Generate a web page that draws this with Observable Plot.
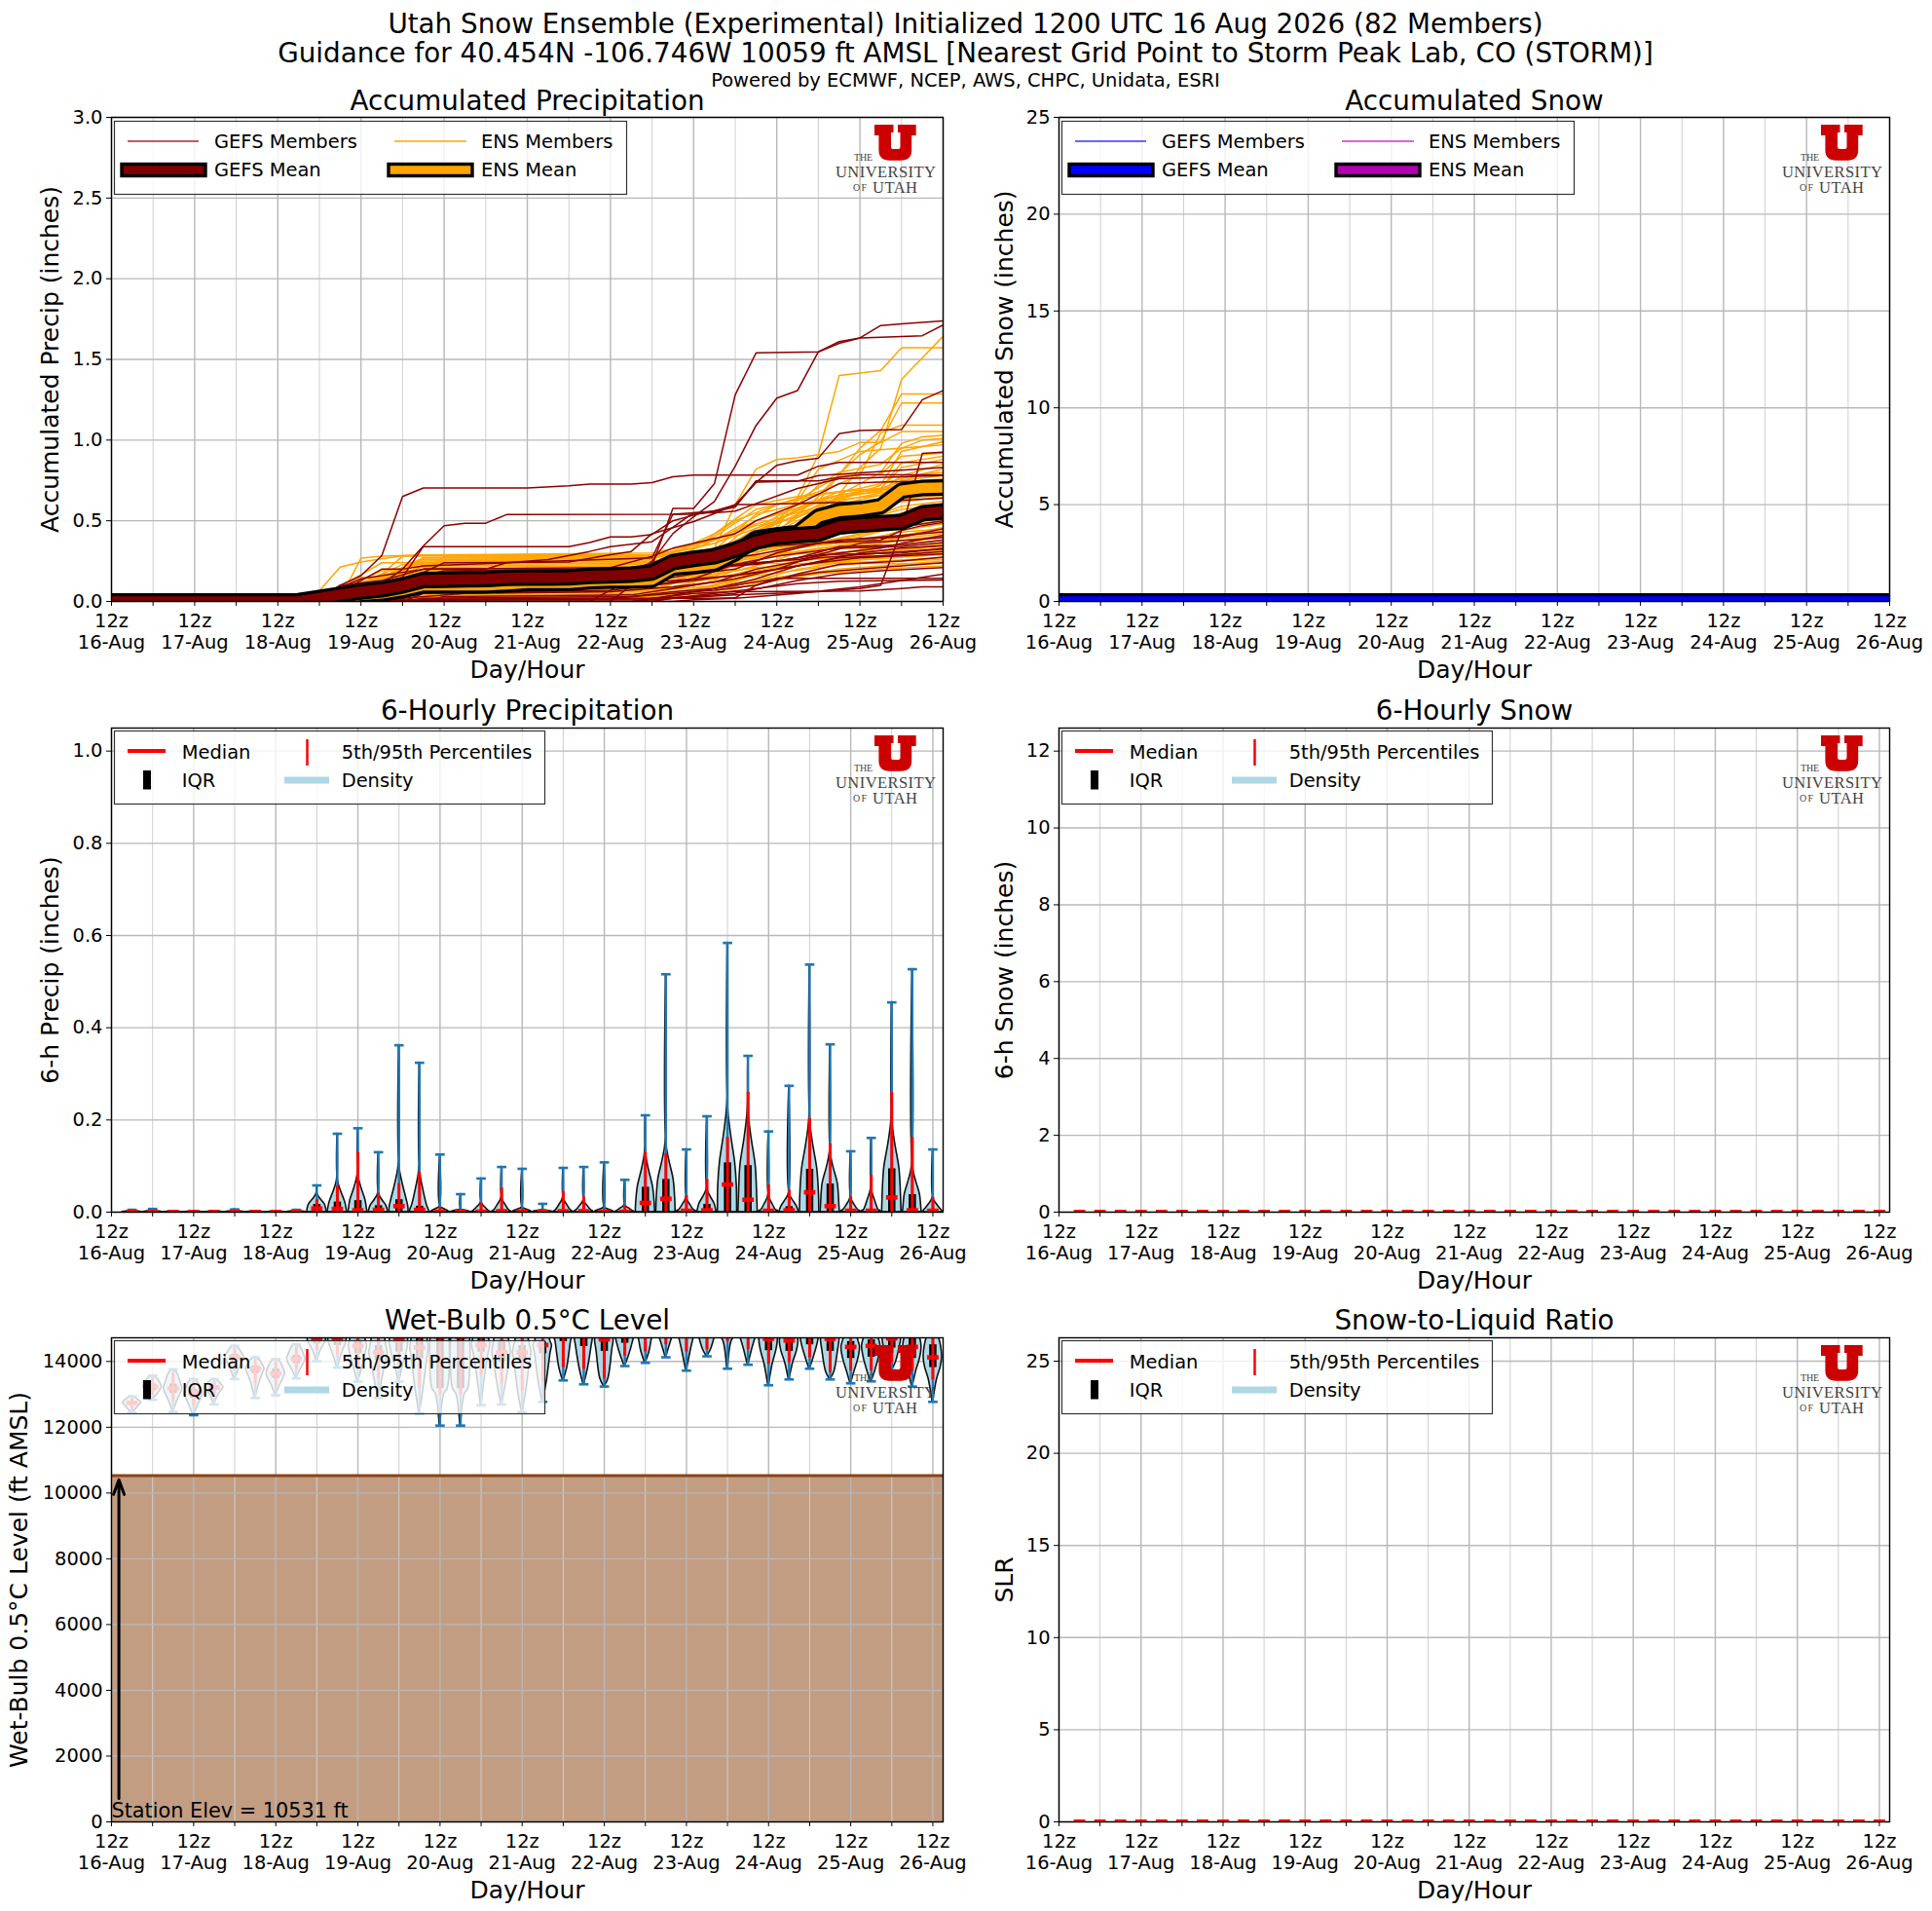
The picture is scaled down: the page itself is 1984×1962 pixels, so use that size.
<!DOCTYPE html>
<html><head><meta charset="utf-8">
<script src="https://cdn.jsdelivr.net/npm/d3@7"></script>
<script src="https://cdn.jsdelivr.net/npm/@observablehq/plot@0.6"></script>
<style>
html,body{margin:0;background:#fff;}
#page{position:relative;width:1984px;height:1962px;overflow:hidden;font-family:"DejaVu Sans",sans-serif;color:#000;}
.sup{position:absolute;left:0;width:1983px;text-align:center;white-space:nowrap;line-height:1;}
.panel{position:absolute;width:992px;}
</style></head><body><div id="page">
<div class="sup" style="top:11px;font-size:27.78px">Utah Snow Ensemble (Experimental) Initialized 1200 UTC 16 Aug 2026 (82 Members)</div>
<div class="sup" style="top:41px;font-size:27.78px">Guidance for 40.454N -106.746W 10059 ft AMSL [Nearest Grid Point to Storm Peak Lab, CO (STORM)]</div>
<div class="sup" style="top:73px;font-size:19.44px">Powered by ECMWF, NCEP, AWS, CHPC, Unidata, ESRI</div>
</div>
<script>
// ---------- tick labels ----------
const dayLabels = ["16-Aug","17-Aug","18-Aug","19-Aug","20-Aug","21-Aug","22-Aug","23-Aug","24-Aug","25-Aug","26-Aug"];
const dayTicks = [0,4,8,12,16,20,24,28,32,36,40];
const halfDayTicks = [2,6,10,14,18,22,26,30,34,38];
const meanSteps = [0,1,2,3,4,5,6,7,8,9,10,11,12,13,14,15,16,17,18,19,20,21,22,23,24,25,26,27,28,29,30,31,32,33,34,35,36,37,38,39,40];
const violinSteps = [1,2,3,4,5,6,7,8,9,10,11,12,13,14,15,16,17,18,19,20,21,22,23,24,25,26,27,28,29,30,31,32,33,34,35,36,37,38,39,40];

// ---------- accumulated precipitation: means at every 6-h step ----------
const gefsMean = [0,0,0,0,0,0,0,0,0,.002,.022,.042,.062,.075,.099,.133,.135,.137,.139,.146,.148,.148,.15,.158,.162,.166,.18,.244,.264,.28,.32,.37,.4,.41,.42,.465,.477,.485,.493,.546,.558];
const ensMean = [0,0,0,0,0,0,0,0,0,0,.005,.02,.04,.05,.07,.1,.1,.1,.1,.105,.115,.115,.115,.125,.13,.13,.135,.21,.22,.235,.3,.39,.41,.425,.525,.56,.57,.59,.687,.703,.707];

// ---------- accumulated precipitation: members as [step,value,...] read at each bend ----------
const gefsMembers = [
[25,.1,26,.22,27,.576,28,.576,29,.73,30,1.28,31,1.54,34,1.547,35,1.61,36,1.633,39,1.647,40,1.714],
[24,.07,25,.15,26,.25,27,.42,28,.525,29,.62,30,.838,31,1.09,32,1.26,33,1.307,34,1.547,35,1.6,36,1.633,37,1.71,38,1.72,40,1.738],
[10,.02,11,.1,12,.16,13,.284,14,.65,15,.703,20,.703,22,.717,23,.727,25,.728,26,.737,27,.773,28,.783,33,.783,34,.838,35,.862,40,.862],
[11,.05,12,.09,13,.11,14,.2,15,.344,16,.469,17,.485,18,.485,19,.538,28,.54,29,.556,30,.586,31,.747,34,.747,35,.77,36,.785,40,.785],
[10,.01,12,.08,14,.15,15,.34,22,.34,23,.365,24,.4,25,.4,26,.415,27,.5,28,.535,30,.59,31,.74,33,.745,34,.78,40,.83],
[12,.05,14,.12,16,.24,22,.245,24,.29,25,.31,26,.42,28,.495,29,.545,30,.6,31,.737,32,.844,33,.872,34,.888,35,1.04,36,1.06,38,1.065,39,1.25,40,1.307],
[11,.06,13,.2,14,.2,15,.22,19,.24,21,.26,23,.31,24,.34,26,.37,27,.46,28,.55,29,.56,30,.6,31,.6,37,.62,40,.64],
[12,.06,14,.13,16,.19,25,.2,27,.28,30,.33,34,.36,37,.38,38,.44,39,.918,40,.925],
[11,.1,13,.13,15,.2,18,.2,19,.24,26,.27,27,.54,28,.55,29,.55,30,.56,33,.7,35,.76,40,.78],
[10,.03,12,.14,15,.2,24,.21,26,.28,27,.33,30,.42,31,.5,33,.6,35,.73,37,.74,40,.75],
[11,.01,13,.06,15,.15,24,.16,26,.19,27,.27,28,.3,30,.36,32,.4,35,.45,38,.5,39,.57,40,.58],
[12,.01,14,.05,16,.13,20,.14,26,.14,27,.2,29,.27,31,.36,33,.37,35,.42,37,.44,40,.5],
[12,.03,15,.13,20,.19,25,.2,27,.22,29,.26,31,.29,33,.34,35,.38,38,.4,40,.45],
[13,.01,15,.09,19,.1,24,.11,26,.13,28,.17,30,.2,32,.3,34,.36,36,.39,40,.43],
[12,.02,15,.08,22,.09,26,.1,28,.14,30,.23,33,.26,35,.3,37,.33,38,.36,40,.41],
[14,.06,16,.14,24,.14,26,.15,27,.2,30,.22,32,.25,34,.29,36,.36,40,.395],
[13,.02,15,.11,26,.12,28,.21,31,.23,33,.27,35,.34,38,.35,40,.38],
[14,.03,16,.11,22,.12,25,.17,27,.2,30,.23,32,.28,35,.33,38,.34,40,.365],
[15,.05,20,.06,24,.07,26,.1,28,.13,31,.18,33,.22,36,.3,38,.33,40,.345],
[12,.03,14,.07,16,.09,24,.1,27,.13,30,.16,32,.2,34,.29,38,.3,40,.33],
[14,.02,17,.05,24,.06,27,.09,29,.12,31,.2,34,.27,37,.3,40,.325],
[15,.02,25,.03,27,.06,29,.08,31,.14,33,.22,35,.27,38,.29,40,.31],
[16,.03,25,.04,27,.08,30,.14,32,.2,34,.24,36,.27,40,.295],
[14,.01,24,.02,27,.05,29,.07,31,.1,33,.17,35,.23,38,.25,40,.275],
[15,.01,26,.015,28,.06,30,.1,32,.14,34,.18,36,.2,38,.22,40,.24],
[13,.01,26,.02,28,.03,30,.05,33,.13,35,.17,37,.19,40,.21],
[15,.01,26,.02,29,.02,30,.022,31,.1,32,.143,40,.143],
[27,.02,29,.05,31,.08,33,.11,35,.125,38,.13,40,.133],
[26,.02,28,.05,30,.06,36,.065,38,.08,39,.09,40,.09],
[26,.01,30,.04,34,.06,36,.08,37,.1,38,.44,39,.47,40,.49],
[28,.01,30,.02,33,.05,36,.09,38,.13,40,.17]
];
const ensMembers = [
[11,.06,12,.12,15,.2,26,.21,29,.25,32,.4,34,.5,36,.83,37,.95,38,1.376,40,1.643],
[10,.02,12,.1,15,.24,26,.25,29,.3,32,.45,33,.645,34,.91,35,1.4,37,1.43,38,1.573,40,1.573],
[11,.03,13,.1,15,.27,26,.28,29,.36,32,.5,34,.62,36,.95,37,1.06,38,1.285,40,1.285],
[12,.05,14,.11,16,.15,26,.16,29,.27,32,.43,34,.65,35,.79,36,.91,37,.99,38,1.23,40,1.23],
[10,.066,11,.213,12,.244,14,.284,26,.29,28,.33,30,.5,32,.6,34,.68,36,.78,37,1.045,38,1.093,40,1.093],
[12,.04,15,.22,26,.23,29,.33,30,.6,31,.82,32,.88,33,.89,35,.93,36,.985,37,.985,38,1.053,40,1.053],
[11,.02,12,.268,13,.28,15,.288,26,.3,29,.38,31,.5,33,.58,35,.66,37,.8,38,.98,39,1.02,40,1.03],
[12,.03,15,.18,26,.19,29,.3,31,.45,33,.6,34,.72,35,.8,37,.85,38,.95,39,1,40,1.01],
[13,.06,16,.26,26,.27,29,.36,31,.48,33,.55,35,.63,37,.72,38,.93,40,.99],
[11,.05,14,.16,26,.17,29,.3,32,.5,33,.62,34,.82,36,.93,38,.95,40,.97],
[12,.07,15,.25,26,.26,29,.4,31,.57,33,.63,35,.78,37,.79,38,.9,40,.92],
[12,.02,15,.14,26,.15,29,.25,31,.4,33,.58,35,.68,37,.7,38,.86,40,.9],
[13,.04,15,.1,26,.11,29,.32,31,.54,33,.6,35,.66,37,.7,38,.83,40,.88],
[10,.03,12,.15,26,.16,29,.27,31,.42,33,.54,35,.65,37,.68,38,.78,40,.85],
[13,.05,16,.2,26,.21,29,.38,32,.6,34,.66,36,.7,38,.76,40,.82],
[11,.04,14,.23,26,.24,29,.42,31,.6,33,.65,35,.68,37,.7,39,.79,40,.8],
[14,.07,16,.13,26,.14,29,.29,31,.5,33,.6,35,.63,37,.66,38,.75,40,.78],
[12,.09,15,.27,26,.28,29,.38,31,.47,33,.52,35,.64,37,.69,39,.75,40,.76],
[13,.03,15,.08,26,.09,29,.2,31,.36,33,.5,35,.62,38,.7,40,.75],
[11,.07,13,.19,26,.2,29,.31,31,.42,33,.57,35,.66,38,.72,40,.73],
[12,.06,15,.12,26,.13,29,.24,32,.44,34,.6,36,.68,38,.7,40,.71],
[10,.01,13,.17,26,.18,29,.28,31,.44,33,.53,35,.6,37,.66,40,.7],
[14,.05,16,.06,26,.07,29,.19,31,.3,33,.42,35,.56,38,.66,40,.68],
[12,.08,15,.26,26,.27,29,.33,31,.41,33,.46,35,.52,37,.62,40,.66],
[13,.02,16,.05,26,.06,29,.15,31,.33,33,.45,35,.5,37,.6,40,.65],
[11,.03,14,.21,26,.22,29,.32,31,.38,33,.43,36,.5,38,.59,40,.62],
[13,.07,15,.15,26,.16,29,.22,31,.35,33,.4,35,.47,38,.57,40,.6],
[12,.01,15,.07,26,.08,29,.17,31,.3,33,.38,36,.45,38,.55,40,.58],
[14,.1,16,.28,26,.285,28,.3,30,.36,33,.4,36,.46,38,.52,40,.56],
[12,.05,14,.17,26,.18,29,.24,31,.31,34,.36,37,.44,39,.53,40,.54],
[13,.01,16,.04,26,.05,29,.13,31,.27,33,.34,36,.42,39,.5,40,.52],
[11,.09,13,.24,26,.25,28,.28,30,.33,33,.36,36,.4,38,.47,40,.5],
[14,.03,16,.09,26,.1,29,.16,31,.22,33,.3,36,.36,38,.44,40,.48],
[12,.04,15,.19,26,.2,29,.23,31,.27,34,.33,37,.38,40,.46],
[13,.06,15,.11,26,.12,29,.19,31,.25,33,.33,36,.38,38,.43,40,.45],
[15,.02,26,.03,29,.1,31,.18,33,.25,36,.32,38,.4,40,.44],
[12,.06,14,.28,26,.29,28,.3,31,.33,34,.35,37,.38,40,.42],
[14,.04,16,.16,26,.17,29,.21,31,.26,34,.32,37,.36,40,.41],
[15,.01,26,.02,28,.07,30,.14,32,.22,34,.28,37,.34,40,.4],
[13,.08,15,.2,26,.21,29,.25,31,.28,34,.32,38,.35,40,.38],
[14,.02,26,.03,29,.08,31,.17,33,.22,36,.28,38,.32,40,.36],
[12,.03,15,.09,26,.1,29,.14,31,.2,33,.25,36,.29,40,.35],
[13,.09,15,.23,26,.24,29,.26,32,.29,36,.31,40,.33],
[14,.01,26,.02,29,.06,31,.13,33,.2,36,.26,40,.32],
[11,.05,14,.15,26,.16,29,.2,31,.24,35,.27,40,.3],
[13,.04,16,.06,26,.07,29,.12,31,.19,34,.24,40,.29],
[12,.02,15,.05,26,.06,29,.1,31,.16,34,.21,37,.25,40,.27],
[14,.06,16,.12,26,.13,29,.17,31,.21,35,.24,40,.26],
[15,.03,26,.04,29,.09,32,.15,35,.2,38,.23,40,.25],
[13,.03,15,.17,26,.18,29,.21,31,.235,40,.235],
[14,.01,26,.01,29,.05,31,.11,34,.17,37,.2,40,.22]
];
const snowMean = [0,0,0,0,0,0,0,0,0,0,0,0,0,0,0,0,0,0,0,0,0,0,0,0,0,0,0,0,0,0,0,0,0,0,0,0,0,0,0,0,0];

// ---------- 6-hourly precipitation statistics ----------
const precipMax = [.005,.007,.002,.002,.002,.006,.002,.002,.005,.058,.17,.182,.13,.362,.324,.125,.039,.073,.098,.094,.018,.096,.098,.108,.07,.21,.516,.136,.208,.584,.339,.175,.274,.537,.364,.132,.161,.455,.527,.136];
const precipP95 = [.002,.003,.001,.001,.001,.002,.001,.001,.002,.028,.058,.13,.042,.063,.087,.011,.004,.021,.053,.008,.004,.046,.034,.007,.015,.13,.128,.037,.072,.163,.261,.06,.049,.204,.149,.035,.081,.261,.163,.033];
const precipQ3 = [.001,.001,.0005,.0005,.0005,.001,.0005,.0005,.001,.018,.023,.026,.015,.028,.014,.003,.002,.003,.004,.003,.002,.004,.004,.003,.003,.055,.072,.004,.018,.108,.102,.004,.013,.094,.062,.004,.004,.095,.039,.007];
const precipMed = [.0005,.0005,.0002,.0002,.0002,.0005,.0002,.0002,.0005,.008,.007,.004,.005,.013,.005,.001,.001,.001,.002,.001,.001,.002,.002,.001,.001,.02,.029,.003,.004,.06,.027,.003,.004,.043,.013,.003,.003,.032,.004,.003];
const precipNeck = [.003,.004,.0015,.0015,.0015,.003,.0015,.0015,.003,.04,.07,.08,.04,.1,.09,.012,.006,.02,.03,.01,.005,.03,.025,.01,.015,.13,.15,.03,.05,.23,.22,.035,.04,.2,.13,.03,.05,.2,.1,.03];
const precipBodyWidth = [.47,.45,.37,.17,.02,.004];

// ---------- 6-hourly snow and snow-to-liquid ratio medians ----------
const snowMedian = [0,0,0,0,0,0,0,0,0,0,0,0,0,0,0,0,0,0,0,0,0,0,0,0,0,0,0,0,0,0,0,0,0,0,0,0,0,0,0,0];
const slrMedian = [0,0,0,0,0,0,0,0,0,0,0,0,0,0,0,0,0,0,0,0,0,0,0,0,0,0,0,0,0,0,0,0,0,0,0,0,0,0,0,0];

// ---------- wet-bulb 0.5 C level statistics (ft AMSL) ----------
const wbMin = [12445,12831,12465,12366,12693,13464,12890,12970,13484,14008,13810,13385,12890,13385,12425,12050,12050,12673,12693,12465,12772,13424,13306,13237,13860,13958,14127,13721,14156,13780,13900,13276,13454,13780,13454,13335,13395,13731,13237,12772];
const wbP5 = [12560,12980,12800,12650,12980,13760,13350,13270,13750,14350,14200,13800,13500,13900,13200,13000,13000,13600,13300,13100,13400,13830,13780,13484,14176,14305,14522,14305,14374,14620,14374,13929,13978,14127,13682,13731,13731,13978,13731,13454];
const wbQ1 = [12690,13130,13040,12900,13130,14000,13650,13500,13950,14550,14500,14250,14050,14300,14100,13190,13190,14300,14000,14000,14250,14620,14470,14324,14570,14850,14850,14800,14750,14800,14750,14344,14324,14522,14324,14107,14146,14423,14107,13830];
const wbMed = [12742,13227,13187,13040,13207,14127,13780,13632,14077,14670,14670,14473,14275,14640,14423,14760,14760,14500,14275,14275,14500,14800,14800,14670,14800,14900,14950,15000,14950,15000,14900,14690,14640,14800,14690,14443,14473,14700,14443,14127];
const wbQ3 = [12800,13330,13330,13160,13280,14230,13880,13780,14200,14750,14790,14650,14500,14800,14700,14900,14900,14700,14600,14500,14600,14950,14950,14800,14950,15050,15100,15200,15100,15200,15100,14850,14800,15000,14850,14620,14670,14850,14720,14522];
const wbP95 = [12880,13500,13650,13380,13400,14400,14050,14000,14450,14850,14950,15200,15000,15100,15100,15300,15300,15000,15000,14900,15000,15200,15200,15100,15200,15300,15300,15400,15300,15400,15300,15100,15100,15200,15100,14950,15000,15100,15000,14900];
const wbMax = [12940,13573,13760,13464,13464,14473,14127,14077,14522,14900,15000,15300,15100,15200,15200,15500,15500,15100,15100,15000,15100,15400,15400,15300,15400,15500,15500,15600,15500,15600,15500,15300,15300,15400,15300,15200,15200,15300,15200,15100];
const wbBodyWidth = [.015,.2,.38,.45,.38,.2,.015];
const stationElev = [10531];
const arrowBase = [713];
const stationLabelY = [340];

// ---------- helpers ----------
const FS = 19.44, GRID = "#b8b8b8", FONT = "DejaVu Sans";
const toRows = (pairs, id) => {
  const rows = [{id, step: 0, value: 0}, {id, step: pairs[0] - 1, value: 0}];
  for (let i = 0; i < pairs.length; i += 2) rows.push({id, step: pairs[i], value: pairs[i+1]});
  return rows;
};
const membersRows = (list, tag) => list.flatMap((m, i) => toRows(m, tag + i));
const meanRows = (values) => values.map((value, i) => ({step: meanSteps[i], value}));

function svgEl(parent, name, attrs) {
  const e = document.createElementNS("http://www.w3.org/2000/svg", name);
  for (const k in attrs) e.setAttribute(k, attrs[k]);
  parent.appendChild(e);
  return e;
}
function svgText(parent, str, x, y, attrs) {
  const t = svgEl(parent, "text", Object.assign({x, y, "font-family": FONT, "font-size": FS, dy: "0.35em", fill: "#000", "text-anchor": "start"}, attrs || {}));
  t.textContent = str;
  return t;
}
// University mark, anchored to the right edge of the frame
function logoMark() {
  return (index, scales, values, dims) => {
    const g = document.createElementNS("http://www.w3.org/2000/svg", "g");
    const R = dims.width - dims.marginRight, T = dims.marginTop;
    const u = svgEl(g, "g", {transform: `translate(${R-70},${T+8})`});
    svgEl(u, "path", {d: "M0 0H19.5V8H17V23Q17 25 19 25H24.5Q26.5 25 26.5 23V8H24V0H42.7V11H38.2V26Q38.2 36.7 27 36.7H15.7Q4.4 36.7 4.4 26V11H0Z", fill: "#cc0000"});
    const serif = {"font-family": "Liberation Serif", fill: "#444", dy: 0};
    svgText(g, "THE", R-91, T+45, Object.assign({"font-size": 10, textLength: 19}, serif));
    svgText(g, "UNIVERSITY", R-110, T+62, Object.assign({"font-size": 16.5, textLength: 103, lengthAdjust: "spacing"}, serif));
    svgText(g, "OF", R-92, T+76, Object.assign({"font-size": 10, textLength: 14}, serif));
    svgText(g, "UTAH", R-72, T+77.5, Object.assign({"font-size": 16.5, textLength: 46}, serif));
    return g;
  };
}
function memberLegend(memberColorA, meanColorA, memberColorB, meanColorB) {
  return (index, scales, values, dims) => {
    const g = document.createElementNS("http://www.w3.org/2000/svg", "g");
    g.setAttribute("transform", `translate(${dims.marginLeft},${dims.marginTop})`);
    svgEl(g, "rect", {x: 3.5, y: 4.5, width: 526, height: 75, fill: "#fff", "fill-opacity": .8, stroke: "#333", "stroke-width": 1.2});
    const col = [[17, 90, 11, 97, 106, "GEFS"], [291, 365, 285, 371, 380, "ENS"]];
    col.forEach(([a, b, c, d, tx, name], i) => {
      svgEl(g, "line", {x1: a, x2: b, y1: 25, y2: 25, stroke: i ? memberColorB : memberColorA, "stroke-width": 1.6});
      svgText(g, name + " Members", tx, 25);
      svgEl(g, "rect", {x: c, y: 48.5, width: d-c, height: 12, fill: i ? meanColorB : meanColorA, stroke: "#000", "stroke-width": 3.4});
      svgText(g, name + " Mean", tx, 54);
    });
    return g;
  };
}
function violinLegend() {
  return (index, scales, values, dims) => {
    const g = document.createElementNS("http://www.w3.org/2000/svg", "g");
    g.setAttribute("transform", `translate(${dims.marginLeft},${dims.marginTop})`);
    svgEl(g, "rect", {x: 3.5, y: 3.5, width: 442, height: 75, fill: "#fff", "fill-opacity": .8, stroke: "#333", "stroke-width": 1.2});
    svgEl(g, "line", {x1: 17, x2: 56, y1: 24, y2: 24, stroke: "#f00", "stroke-width": 4});
    svgText(g, "Median", 72.7, 25);
    svgEl(g, "rect", {x: 33, y: 44, width: 8, height: 19.5, fill: "#000"});
    svgText(g, "IQR", 72.7, 54);
    svgEl(g, "line", {x1: 201.5, x2: 201.5, y1: 12, y2: 39, stroke: "#f00", "stroke-width": 2.5});
    svgText(g, "5th/95th Percentiles", 236.7, 25);
    svgEl(g, "line", {x1: 178, x2: 224, y1: 54, y2: 54, stroke: "#add8e6", "stroke-width": 7});
    svgText(g, "Density", 236.7, 54);
    return g;
  };
}
// violin body, whiskers, quartile bar, percentile bar, median dash
function violinMarks(rows, bodyRows) {
  return [
    Plot.areaX(bodyRows, {x1: "x1", x2: "x2", y: "y", z: "k", curve: "catmull-rom", fill: "#add8e6", stroke: "#111", strokeWidth: 1.6, clip: true}),
    Plot.link(rows, {x1: "k", x2: "k", y1: "min", y2: "max", stroke: "#1f77b4", strokeWidth: 2.4, clip: true}),
    Plot.link(rows, {x1: d => d.k - .23, x2: d => d.k + .23, y1: "max", y2: "max", stroke: "#1f77b4", strokeWidth: 2.6, clip: true}),
    Plot.link(rows, {x1: d => d.k - .23, x2: d => d.k + .23, y1: "min", y2: "min", stroke: "#1f77b4", strokeWidth: 2.6, clip: true}),
    Plot.link(rows, {x1: "k", x2: "k", y1: "q1", y2: "q3", stroke: "#000", strokeWidth: 7.5, clip: true}),
    Plot.link(rows, {x1: "k", x2: "k", y1: "p5", y2: "p95", stroke: "#f00", strokeWidth: 3, clip: true}),
    Plot.link(rows, {x1: d => d.k - .28, x2: d => d.k + .28, y1: "med", y2: "med", stroke: "#f00", strokeWidth: 4.6, clip: true})
  ];
}
function medianDashes(values) {
  const rows = violinSteps.map((k, i) => ({k, med: values[i]}));
  return [Plot.link(rows, {x1: d => d.k - .28, x2: d => d.k + .28, y1: "med", y2: "med", stroke: "#f00", strokeWidth: 5, clip: true})];
}
function meanBand(rows, color) {
  return [
    Plot.line(rows, {x: "step", y: "value", stroke: "#000", strokeWidth: 17, strokeLinejoin: "miter", clip: true}),
    Plot.line(rows, {x: "step", y: "value", stroke: color, strokeWidth: 10.5, strokeLinejoin: "miter", clip: true})
  ];
}

function panel(o) {
  const host = document.createElement("div");
  host.className = "panel";
  host.style.left = o.left + "px";
  host.style.top = o.top + "px";
  const fig = Plot.plot({
    width: 992, height: 638,
    marginLeft: o.marginLeft, marginRight: o.marginRight, marginTop: 45, marginBottom: 96,
    style: {background: "transparent", overflow: "visible", fontFamily: FONT},
    x: {domain: o.xDomain},
    y: {domain: o.yDomain},
    marks: [
      ...(o.under || []),
      Plot.ruleX(halfDayTicks, {stroke: "#cfcfcf", strokeWidth: 1}),
      Plot.ruleX(dayTicks, {stroke: GRID, strokeWidth: 1.4}),
      Plot.ruleY(o.yTicks, {stroke: GRID, strokeWidth: 1.4}),
      ...o.body,
      o.legend,
      logoMark(),
      Plot.axisX({ticks: dayTicks, tickFormat: d => "12z\n" + dayLabels[dayTicks.indexOf(d)], tickSize: 5, tickPadding: 5, fontSize: FS, lineHeight: 1.17, label: null, anchor: "bottom"}),
      Plot.axisX({ticks: halfDayTicks, tickFormat: () => "", tickSize: 5, label: null, anchor: "bottom"}),
      Plot.axisY({ticks: o.yTicks, tickFormat: o.yFormat, tickSize: 5, tickPadding: 4, fontSize: FS, label: null}),
      Plot.frame({stroke: "#000", strokeWidth: 1.4}),
      Plot.text([o.title], {frameAnchor: "top", lineAnchor: "bottom", dy: o.titleDy, fontSize: 27.78, fill: "#000"}),
      Plot.text(["Day/Hour"], {frameAnchor: "bottom", lineAnchor: "middle", dy: 70, fontSize: 25, fill: "#000"}),
      Plot.text([o.yLabel], {frameAnchor: "left", lineAnchor: "middle", textAnchor: "middle", rotate: -90, dx: o.yLabelDx, fontSize: 25, fill: "#000"})
    ]
  });
  host.appendChild(fig);
  document.getElementById("page").appendChild(host);
}

const f1 = d3.format(".1f"), f0 = d3.format("d");

// --- precip violins ---
const precipRows = violinSteps.map((k, i) => ({k, min: 0, p5: 0, q1: 0, med: precipMed[i], q3: precipQ3[i], p95: precipP95[i], neck: precipNeck[i], max: precipMax[i]}));
const precipBody = precipRows.flatMap(d => [0, d.med, d.q3, (d.q3 + d.neck) / 2, d.neck, d.max].map((y, j) => ({k: d.k, y, x1: d.k - precipBodyWidth[j], x2: d.k + precipBodyWidth[j]})));
// --- wet-bulb violins ---
const wbRows = violinSteps.map((k, i) => ({k, min: wbMin[i], p5: wbP5[i], q1: wbQ1[i], med: wbMed[i], q3: wbQ3[i], p95: wbP95[i], max: wbMax[i]}));
const wbBody = wbRows.flatMap(d => [d.min, d.p5, d.q1, d.med, d.q3, d.p95, d.max].map((y, j) => ({k: d.k, y, x1: d.k - wbBodyWidth[j], x2: d.k + wbBodyWidth[j]})));

const L = {left: 0, marginLeft: 114, marginRight: 24};
const R = {left: 992, marginLeft: 95, marginRight: 44};

panel({...L, top: 75, titleDy: -8, xDomain: [0, 40], yDomain: [0, 3], yTicks: [0, .5, 1, 1.5, 2, 2.5, 3], yFormat: f1,
  title: "Accumulated Precipitation", yLabel: "Accumulated Precip (inches)", yLabelDx: -63,
  body: [
    Plot.line(membersRows(ensMembers, "e"), {x: "step", y: "value", z: "id", stroke: "#ffa500", strokeWidth: 1.5, clip: true}),
    Plot.line(membersRows(gefsMembers, "g"), {x: "step", y: "value", z: "id", stroke: "#8b0000", strokeWidth: 1.5, clip: true}),
    ...meanBand(meanRows(ensMean), "#ffa500"),
    ...meanBand(meanRows(gefsMean), "#800000")
  ],
  legend: memberLegend("#a52a2a", "#800000", "#ffa500", "#ffa500")});

panel({...R, top: 75, titleDy: -8, xDomain: [0, 40], yDomain: [0, 25], yTicks: [0, 5, 10, 15, 20, 25], yFormat: f0,
  title: "Accumulated Snow", yLabel: "Accumulated Snow (inches)", yLabelDx: -56,
  body: [
    ...meanBand(meanRows(snowMean), "#b000b0"),
    ...meanBand(meanRows(snowMean), "#0000ff")
  ],
  legend: memberLegend("#3333ff", "#0000ff", "#cc33cc", "#b000b0")});

panel({...L, top: 702, titleDy: -9, xDomain: [0, 40.5], yDomain: [0, 1.05], yTicks: [0, .2, .4, .6, .8, 1], yFormat: f1,
  title: "6-Hourly Precipitation", yLabel: "6-h Precip (inches)", yLabelDx: -63,
  body: violinMarks(precipRows, precipBody), legend: violinLegend()});

panel({...R, top: 702, titleDy: -9, xDomain: [0, 40.5], yDomain: [0, 12.6], yTicks: [0, 2, 4, 6, 8, 10, 12], yFormat: f0,
  title: "6-Hourly Snow", yLabel: "6-h Snow (inches)", yLabelDx: -56,
  body: medianDashes(snowMedian), legend: violinLegend()});

panel({...L, top: 1328, titleDy: -9, xDomain: [0, 40.5], yDomain: [0, 14720], yTicks: [0, 2000, 4000, 6000, 8000, 10000, 12000, 14000], yFormat: f0,
  title: "Wet-Bulb 0.5°C Level", yLabel: "Wet-Bulb 0.5°C Level (ft AMSL)", yLabelDx: -95,
  under: [
    Plot.rectY(stationElev, {x1: 0, x2: 40.5, y1: 0, y2: d => d, fill: "#8b4513", fillOpacity: .53})
  ],
  body: [
    Plot.ruleY(stationElev, {stroke: "#8b4513", strokeWidth: 3}),
    ...violinMarks(wbRows, wbBody),
    Plot.arrow(stationElev, {x1: .36, x2: .36, y1: arrowBase[0], y2: d => d - 130, stroke: "#000", strokeWidth: 3, bend: 0, headAngle: 40, headLength: 8}),
    Plot.text(["Station Elev = " + stationElev[0] + " ft"], {x: 0, y: stationLabelY[0], textAnchor: "start", lineAnchor: "middle", fontSize: 20.8, fill: "#000"})
  ],
  legend: violinLegend()});

panel({...R, top: 1328, titleDy: -9, xDomain: [0, 40.5], yDomain: [0, 26.27], yTicks: [0, 5, 10, 15, 20, 25], yFormat: f0,
  title: "Snow-to-Liquid Ratio", yLabel: "SLR", yLabelDx: -56,
  body: medianDashes(slrMedian), legend: violinLegend()});
</script>
</body></html>
